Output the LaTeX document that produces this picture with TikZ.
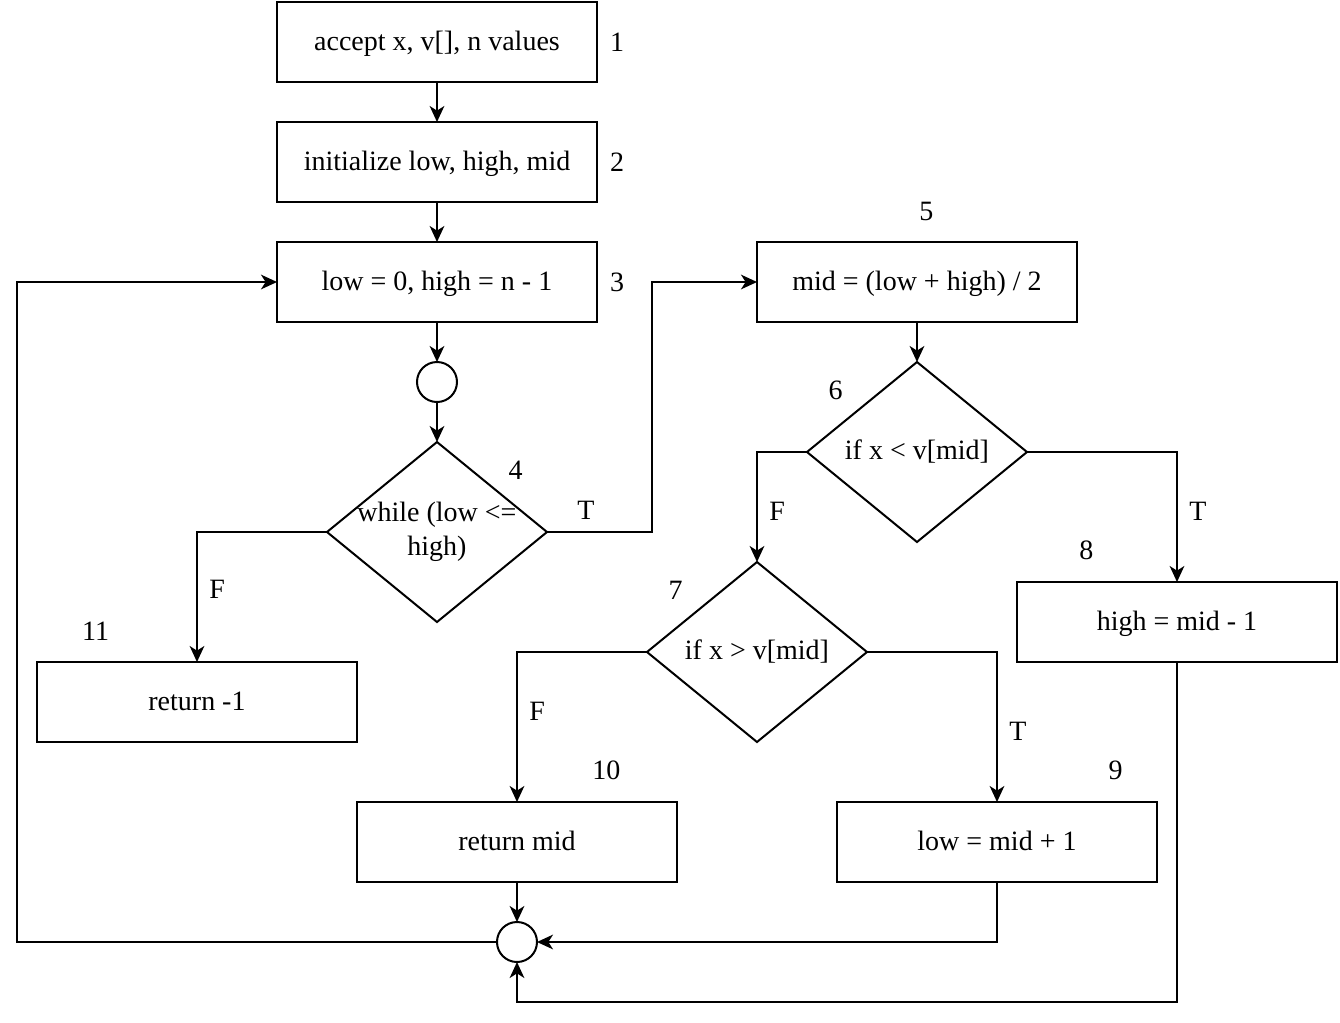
\documentclass[tikz,border=0pt]{standalone}
\usepackage{fontspec}
\setmainfont{Liberation Serif}
\usetikzlibrary{arrows.meta,shapes.geometric,positioning,calc}
\tikzset{
    process/.style={draw, rectangle, minimum width=240pt, minimum height=60pt, inner sep=0pt, outer sep=0pt, text height=15pt, text depth=3pt},
    decision/.style={draw, diamond, minimum width=165pt, minimum height=135pt, shape aspect=1.22, inner sep=-2.2pt, outer sep=0pt, align=center},
    joint/.style={draw, circle, minimum size=30pt, inner sep=0pt, outer sep=0pt},
    flow/.style={-{Stealth[length=12pt, width=11pt, inset=3.5pt]}},
    num/.style={inner sep=0pt},
    cond/.style={inner sep=0pt}
}
\begin{document}
\begin{tikzpicture}[node distance=30pt, line width=1.5pt, font=\fontsize{21pt}{25.5pt}\selectfont]
\useasboundingbox (-327.75pt,31.5pt) rectangle (677.25pt,-735pt);
\node[process] (b1) at (0,0) {accept x, v[], n values};
\node[process, below=of b1] (b2) {initialize low, high, mid};
\node[process, below=of b2] (b3) {low = 0, high = n - 1};
\node[joint, below=of b3] (c1) {};
\node[decision, below=of c1] (d4) {while (low <=\\ high)};
\node[process, right=120pt of b3] (b5) {mid = (low + high) / 2};
\node[decision, below=of b5] (d6) {if x < v[mid]};
\node[decision, below=15pt of d6, xshift=-120pt] (d7) {if x > v[mid]};
\node[process, below=of d6, xshift=195pt] (b8) {high = mid - 1};
\node[process, below=45pt of d7, xshift=-180pt] (b10) {return mid};
\node[process, below=45pt of d7, xshift=180pt] (b9) {low = mid + 1};
\node[joint, below=of b10] (c2) {};
\node[process, below=of d4, xshift=-180pt] (b11) {return -1};

\node[num, right=9pt of b1] (n1) {1};
\node[num, right=9pt of b2] (n2) {2};
\node[num, right=9pt of b3] (n3) {3};
\node[num] (n4) at ($(d4)+(59pt,46.5pt)$) {4};
\node[num] (n5) at ($(b5.north)+(7pt,23pt)$) {5};
\node[num] (n6) at ($(d6)+(-61pt,46.5pt)$) {6};
\node[num] (n7) at ($(d7)+(-61pt,46.5pt)$) {7};
\node[num] (n8) at ($(b8.north)+(-68pt,24pt)$) {8};
\node[num] (n9) at ($(b9.north)+(89pt,24pt)$) {9};
\node[num] (n10) at ($(b10.north)+(67pt,24pt)$) {10};
\node[num] (n11) at ($(b11.north)+(-76pt,23pt)$) {11};

\draw[flow] (b1) -- (b2);
\draw[flow] (b2) -- (b3);
\draw[flow] (b3) -- (c1);
\draw[flow] (c1) -- (d4);
\draw[flow] (d4.east) -- node[cond, pos=0.37, above=9pt] {T} ++(78.75pt,0) |- (b5.west);
\draw[flow] (d4.west) -| node[cond, pos=0.72, right=8.5pt] {F} (b11.north);
\draw[flow] (b5) -- (d6);
\draw[flow] (d6.west) -| node[cond, pos=0.768, right=8.5pt] {F} (d7.north);
\draw[flow] (d6.east) -| node[cond, pos=0.727, right=8.5pt] {T} (b8.north);
\draw[flow] (d7.west) -| node[cond, pos=0.697, right=8.5pt] {F} (b10.north);
\draw[flow] (d7.east) -| node[cond, pos=0.763, right=8.5pt] {T} (b9.north);
\draw[flow] (b10) -- (c2);
\draw[flow] (b9.south) |- (c2.east);
\draw[flow] (b8.south) -- ++(0,-255pt) -| (c2.south);
\draw[flow] (c2.west) -- ++(-360pt,0) |- (b3.west);
\end{tikzpicture}
\end{document}
